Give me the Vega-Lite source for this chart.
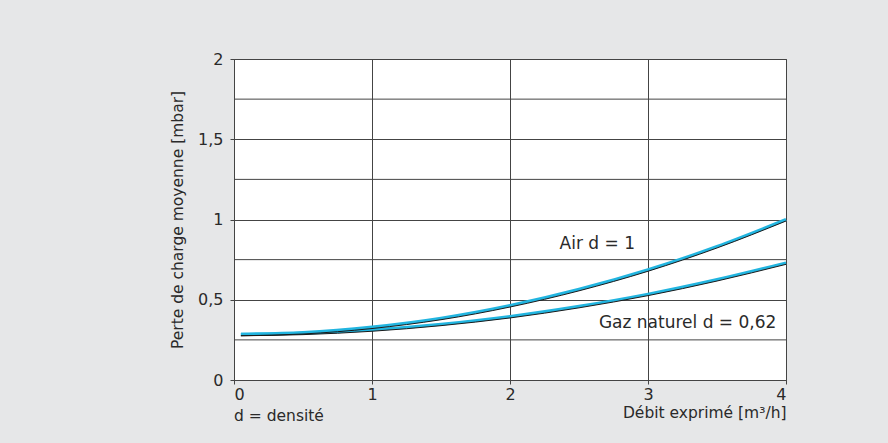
{
  "$schema": "https://vega.github.io/schema/vega-lite/v6.json",
  "autosize": {"type": "none"},
  "padding": {"left": 234, "top": 59, "right": 102, "bottom": 63},
  "width": 552,
  "height": 321,
  "background": "#e6e7e8",
  "config": {
    "view": {"fill": "white", "stroke": "#444444", "strokeWidth": 1},
    "font": "DejaVu Sans",
    "axis": {"labelFont": "DejaVu Sans", "titleFont": "DejaVu Sans", "labelFontSize": 16, "titleFontSize": 15.5, "labelColor": "#2a2a2a", "titleColor": "#2a2a2a", "titleFontWeight": "normal", "gridColor": "#444444", "gridOpacity": 1, "domainColor": "#444444", "tickColor": "#444444", "tickSize": 4}
  },
  "title": {"text": "d = densité", "orient": "bottom", "anchor": "start", "frame": "group", "fontSize": 15.5, "font": "DejaVu Sans", "fontWeight": "normal", "color": "#2a2a2a", "offset": -12},
  "datasets": {
    "curves": [
      {"x": 0.05, "y": 0.285, "gas": "Air"},
      {"x": 0.5, "y": 0.296, "gas": "Air"},
      {"x": 1.0, "y": 0.33, "gas": "Air"},
      {"x": 1.5, "y": 0.385, "gas": "Air"},
      {"x": 2.0, "y": 0.464, "gas": "Air"},
      {"x": 2.5, "y": 0.565, "gas": "Air"},
      {"x": 3.0, "y": 0.687, "gas": "Air"},
      {"x": 3.5, "y": 0.832, "gas": "Air"},
      {"x": 4.0, "y": 1.0, "gas": "Air"},
      {"x": 0.05, "y": 0.285, "gas": "Gaz"},
      {"x": 0.5, "y": 0.292, "gas": "Gaz"},
      {"x": 1.0, "y": 0.313, "gas": "Gaz"},
      {"x": 1.5, "y": 0.348, "gas": "Gaz"},
      {"x": 2.0, "y": 0.396, "gas": "Gaz"},
      {"x": 2.5, "y": 0.459, "gas": "Gaz"},
      {"x": 3.0, "y": 0.535, "gas": "Gaz"},
      {"x": 3.5, "y": 0.626, "gas": "Gaz"},
      {"x": 4.0, "y": 0.73, "gas": "Gaz"}
    ],
    "minor": [{"y": 0.25}, {"y": 0.75}, {"y": 1.25}, {"y": 1.75}],
    "labels": [
      {"x": 2.906, "y": 0.847, "text": "Air d = 1"},
      {"x": 3.93, "y": 0.355, "text": "Gaz naturel d = 0,62"}
    ]
  },
  "layer": [
    {
      "data": {"name": "minor"},
      "mark": {"type": "rule", "color": "#444444", "strokeWidth": 1},
      "encoding": {
        "y": {"field": "y", "type": "quantitative", "scale": {"domain": [0, 2]}}
      }
    },
    {
      "data": {"name": "curves"},
      "mark": {"type": "line", "color": "#22b5e0", "strokeWidth": 3, "interpolate": "monotone"},
      "encoding": {
        "x": {"field": "x", "type": "quantitative", "scale": {"domain": [0, 4]},
          "axis": {"values": [0, 1, 2, 3, 4], "format": "d", "grid": true, "title": "Débit exprimé [m³/h]", "titleAnchor": "end", "titlePadding": 3, "labelPadding": 2}},
        "y": {"field": "y", "type": "quantitative", "scale": {"domain": [0, 2]},
          "axis": {"values": [0, 0.5, 1, 1.5, 2], "grid": true, "title": "Perte de charge moyenne [mbar]", "titlePadding": 12, "labelPadding": 7, "labelExpr": "replace(format(datum.value, '~g'), '.', ',')"}},
        "detail": {"field": "gas"}
      }
    },
    {
      "data": {"name": "curves"},
      "mark": {"type": "line", "color": "#1a1a1a", "strokeWidth": 1, "yOffset": 1.5, "interpolate": "monotone"},
      "encoding": {
        "x": {"field": "x", "type": "quantitative"},
        "y": {"field": "y", "type": "quantitative"},
        "detail": {"field": "gas"}
      }
    },
    {
      "data": {"name": "labels"},
      "mark": {"type": "text", "align": "right", "baseline": "middle", "fontSize": 17, "font": "DejaVu Sans", "color": "#2a2a2a"},
      "encoding": {
        "x": {"field": "x", "type": "quantitative"},
        "y": {"field": "y", "type": "quantitative"},
        "text": {"field": "text"}
      }
    }
  ]
}
